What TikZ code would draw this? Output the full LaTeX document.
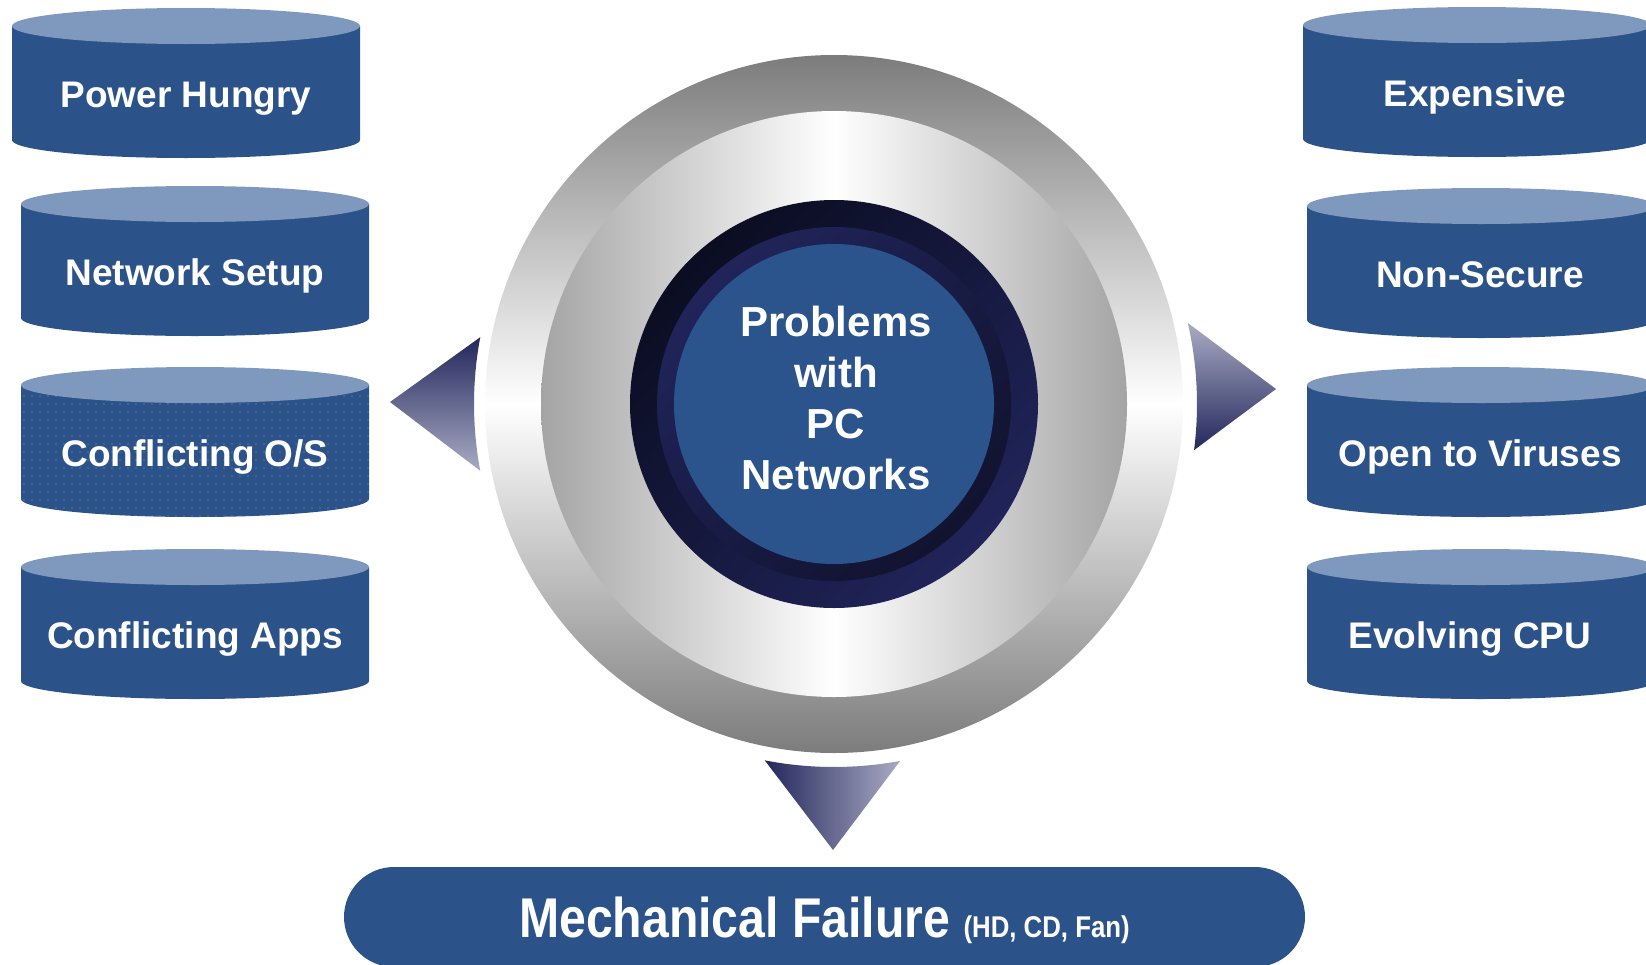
\documentclass[tikz,border=0pt]{standalone}
\usepackage{fontspec}
\setmainfont{Liberation Sans}
\usepackage{graphicx}
\usetikzlibrary{patterns.meta}
\definecolor{cylblue}{HTML}{2C5389}
\definecolor{cyllight}{HTML}{7F99BE}
\definecolor{ringgray}{HTML}{7C7C7C}
\definecolor{diskgray}{HTML}{A4A4A4}
\definecolor{navyA}{HTML}{0B0D22}
\definecolor{navyB}{HTML}{202459}
\definecolor{navyC}{HTML}{11132F}
\definecolor{coreblue}{HTML}{2C548C}
\definecolor{tridark}{HTML}{23275B}
\definecolor{trilight}{HTML}{A9ABC4}

\begin{document}
\begin{tikzpicture}
    [   x=1pt, y=-1pt
    ,   cylbody/.style= {fill=cylblue}
    ,   cyltop/.style= {fill=cyllight}
    ,   solidface/.style= {}
    ,   speckled/.style=
        {   postaction=
            {   pattern={Dots[distance=8pt, radius=0.6pt]}
            ,   pattern color=white!45!cylblue
            }
        }
    ,   cyllabel/.style=
        {   anchor=base
        ,   inner sep=0pt
        ,   text=white
        ,   font=\fontsize{37}{44}\selectfont\bfseries
        }
    ,   disc/.style=
        {   circle
        ,   inner sep=0pt
        }
    ,   topic/.style=
        {   align=center
        ,   inner sep=0pt
        ,   text=white
        ,   font=\fontsize{42}{51}\selectfont\bfseries
        }
    ,   bar/.style=
        {   fill=cylblue
        ,   rounded corners=50pt
        ,   minimum width=961pt
        ,   minimum height=100pt
        ,   inner sep=0pt
        ,   text height=41pt
        ,   text depth=0pt
        ,   text=white
        ,   font=\bfseries
        }
    ]
    \clip (0,0) rectangle (1646,964);
    \foreach \cx/\cy/\tx/\sty/\nm/\txt in
    {   186/26/186/solidface/hungry/{Power Hungry},
        195/204/195/solidface/setup/{Network Setup},
        195/385/195/speckled/clashos/{Conflicting O/S},
        195/567/195/solidface/clashapps/{Conflicting Apps},
        1477/25/1475/solidface/costly/{Expensive},
        1481/206/1480/solidface/insecure/{Non-Secure},
        1481/385/1480/solidface/viruses/{Open to Viruses},
        1481/567/1470/solidface/cpu/{Evolving CPU}
    }
    {   \fill[cylbody, \sty] (\cx-174,\cy) -- (\cx-174,\cy+114)
            arc[start angle=180, end angle=0, x radius=174, y radius=18]
            -- (\cx+174,\cy) -- cycle;
        \fill[cyltop, \sty] (\cx,\cy) ellipse[x radius=174, y radius=18];
        \node[cyllabel] (\nm) at (\tx,\cy+81) {\txt\unskip};
    }

    \node[disc, minimum size=698pt, top color=ringgray, bottom color=ringgray, middle color=white] (ring) at (834,404) {};
    \node[disc, minimum size=586pt, left color=diskgray, right color=diskgray, middle color=white] (disk) at (ring.center) {};
    \node[disc, minimum size=408pt, top color=navyA, bottom color=navyB, shading angle=45] (rimout) at (ring.center) {};
    \node[disc, minimum size=354pt, top color=navyB, bottom color=navyC, shading angle=45] (rimin) at (ring.center) {};
    \node[disc, minimum size=320pt, fill=coreblue] (core) at (ring.center) {};
    \node[topic] (title) at (836,398) {Problems\\with\\PC\\Networks};

    \shade[top color=tridark, bottom color=trilight]
    (390,402)
        -- ([shift={(190.7:360)}]ring.center)
        arc[start angle=190.7, end angle=169.3, radius=360]
        -- cycle;
    \shade[top color=trilight, bottom color=tridark]
    (1276,389)
        -- ([shift={(7.3:363)}]ring.center)
        arc[start angle=7.3, end angle=-12.9, radius=363]
        -- cycle;
    \shade[left color=tridark, right color=trilight]
    (833,850)
        -- ([shift={(79.5:363)}]ring.center)
        arc[start angle=79.5, end angle=101, radius=363]
        -- cycle;

    \node[bar] (mech) at (824.5,917)
    {\scalebox{0.86}[1]{\fontsize{56}{60}\selectfont Mechanical Failure \fontsize{30}{32}\selectfont(HD, CD, Fan)}};
\end{tikzpicture}
\end{document}
